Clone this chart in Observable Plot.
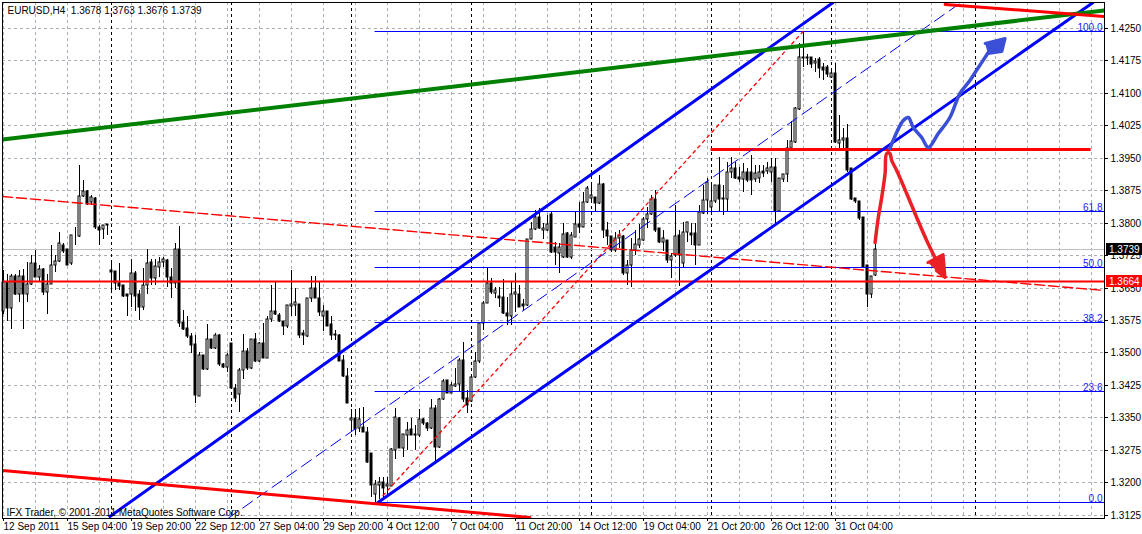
<!DOCTYPE html>
<html><head><meta charset="utf-8">
<script src="https://cdn.jsdelivr.net/npm/d3@7"></script>
<script src="https://cdn.jsdelivr.net/npm/@observablehq/plot@0.6"></script>
<style>
html,body{margin:0;padding:0;background:#fff;}
#chart{width:1142px;height:534px;overflow:hidden;}
svg{display:block;}
</style></head><body><div id="chart"></div>
<script>
// ---- EURUSD H4 candles (bar 1 = 12 Sep 2011 12:00) ----
const opens = [
1.3595,1.3662,1.3603,1.3676,1.3634,1.3676,1.3634,1.3659,1.3706,1.3675,
1.3692,1.3640,1.3657,1.3702,1.3712,1.3749,1.3738,1.3706,1.3769,1.3769,
1.3862,1.3873,1.3848,1.3856,1.3790,1.3785,1.3797,1.3690,1.3688,1.3661,
1.3656,1.3635,1.3635,1.3684,1.3635,1.3606,1.3656,1.3710,1.3673,1.3698,
1.3708,1.3714,1.3674,1.3661,1.3738,1.3571,1.3556,1.3538,1.3519,1.3400,
1.3495,1.3462,1.3531,1.3509,1.3540,1.3472,1.3467,1.3521,1.3417,1.3403,
1.3459,1.3503,1.3463,1.3531,1.3480,1.3521,1.3488,1.3577,1.3596,1.3586,
1.3573,1.3560,1.3608,1.3610,1.3611,1.3544,1.3539,1.3625,1.3648,1.3626,
1.3583,1.3596,1.3565,1.3542,1.3540,1.3482,1.3446,1.3343,1.3349,1.3324,
1.3328,1.3317,1.3267,1.3172,1.3194,1.3201,1.3191,1.3192,1.3274,1.3349,
1.3280,1.3309,1.3323,1.3311,1.3309,1.3347,1.3336,1.3324,1.3371,1.3282,
1.3392,1.3436,1.3407,1.3423,1.3428,1.3482,1.3394,1.3388,1.3442,1.3479,
1.3569,1.3615,1.3660,1.3637,1.3631,1.3629,1.3590,1.3585,1.3636,1.3636,
1.3613,1.3610,1.3762,1.3785,1.3812,1.3783,1.3783,1.3821,1.3744,1.3729,
1.3721,1.3775,1.3721,1.3767,1.3796,1.3790,1.3848,1.3856,1.3860,1.3845,
1.3889,1.3783,1.3768,1.3737,1.3764,1.3770,1.3683,1.3701,1.3737,1.3748,
1.3760,1.3808,1.3819,1.3855,1.3787,1.3756,1.3760,1.3713,1.3725,1.3771,
1.3706,1.3778,1.3775,1.3775,1.3748,1.3823,1.3852,1.3837,1.3849,1.3887,
1.3858,1.3855,1.3917,1.3926,1.3906,1.3902,1.3918,1.3916,1.3902,1.3904,
1.3920,1.3920,1.3918,1.3929,1.3827,1.3902,1.3912,1.3973,1.3987,1.4063,
1.4184,1.4184,1.4182,1.4168,1.4178,1.4160,1.4160,1.4137,1.4145,1.3985,
1.3991,1.3996,1.3926,1.3858,1.3849,1.3812,1.3702,1.3634,1.3678];
const highs = [
1.3690,1.3682,1.3682,1.3682,1.3690,1.3692,1.3708,1.3725,1.3736,1.3702,
1.3694,1.3682,1.3748,1.3725,1.3779,1.3754,1.3740,1.3771,1.3790,1.3933,
1.3898,1.3875,1.3864,1.3860,1.3795,1.3795,1.3797,1.3710,1.3688,1.3706,
1.3656,1.3635,1.3717,1.3687,1.3644,1.3694,1.3738,1.3715,1.3715,1.3720,
1.3720,1.3717,1.3694,1.3752,1.3792,1.3598,1.3583,1.3544,1.3540,1.3500,
1.3495,1.3565,1.3531,1.3544,1.3542,1.3475,1.3498,1.3521,1.3428,1.3465,
1.3542,1.3511,1.3532,1.3544,1.3523,1.3567,1.3583,1.3656,1.3665,1.3590,
1.3573,1.3610,1.3690,1.3648,1.3611,1.3552,1.3626,1.3677,1.3677,1.3663,
1.3609,1.3596,1.3583,1.3552,1.3542,1.3494,1.3463,1.3369,1.3369,1.3371,
1.3374,1.3328,1.3267,1.3205,1.3213,1.3213,1.3213,1.3278,1.3371,1.3351,
1.3311,1.3340,1.3349,1.3332,1.3369,1.3349,1.3338,1.3392,1.3378,1.3394,
1.3438,1.3436,1.3432,1.3463,1.3486,1.3523,1.3413,1.3444,1.3502,1.3571,
1.3619,1.3696,1.3673,1.3652,1.3652,1.3670,1.3629,1.3663,1.3683,1.3656,
1.3623,1.3762,1.3802,1.3829,1.3833,1.3798,1.3818,1.3824,1.3756,1.3752,
1.3798,1.3779,1.3779,1.3825,1.3848,1.3871,1.3885,1.3887,1.3860,1.3910,
1.3891,1.3802,1.3770,1.3779,1.3783,1.3771,1.3714,1.3764,1.3783,1.3796,
1.3814,1.3837,1.3865,1.3875,1.3788,1.3783,1.3760,1.3729,1.3841,1.3783,
1.3802,1.3801,1.3798,1.3798,1.3841,1.3887,1.3903,1.3887,1.3888,1.3952,
1.3887,1.3941,1.3952,1.3941,1.3929,1.3937,1.3926,1.3956,1.3933,1.3933,
1.3933,1.3941,1.3949,1.3949,1.3904,1.3912,1.3991,1.4034,1.4068,1.4215,
1.4242,1.4191,1.4184,1.4180,1.4184,1.4168,1.4164,1.4151,1.4168,1.4050,
1.4018,1.4027,1.3926,1.3858,1.3849,1.3814,1.3702,1.3677,1.3763];
const lows = [
1.3588,1.3572,1.3554,1.3632,1.3617,1.3555,1.3617,1.3655,1.3675,1.3663,
1.3632,1.3588,1.3657,1.3686,1.3709,1.3729,1.3702,1.3702,1.3748,1.3767,
1.3860,1.3840,1.3840,1.3786,1.3748,1.3761,1.3771,1.3644,1.3644,1.3644,
1.3629,1.3583,1.3606,1.3596,1.3575,1.3598,1.3635,1.3656,1.3656,1.3675,
1.3698,1.3652,1.3625,1.3648,1.3559,1.3552,1.3533,1.3498,1.3382,1.3398,
1.3459,1.3459,1.3508,1.3508,1.3469,1.3465,1.3455,1.3415,1.3386,1.3361,
1.3438,1.3459,1.3462,1.3478,1.3478,1.3486,1.3486,1.3571,1.3586,1.3571,
1.3540,1.3557,1.3583,1.3583,1.3534,1.3517,1.3536,1.3617,1.3625,1.3583,
1.3549,1.3562,1.3529,1.3529,1.3479,1.3444,1.3382,1.3317,1.3310,1.3317,
1.3317,1.3244,1.3165,1.3152,1.3160,1.3165,1.3170,1.3190,1.3254,1.3278,
1.3259,1.3274,1.3309,1.3274,1.3305,1.3332,1.3318,1.3323,1.3243,1.3278,
1.3390,1.3405,1.3405,1.3421,1.3409,1.3386,1.3359,1.3386,1.3440,1.3475,
1.3552,1.3615,1.3636,1.3625,1.3606,1.3588,1.3563,1.3563,1.3594,1.3606,
1.3598,1.3608,1.3762,1.3783,1.3785,1.3762,1.3781,1.3729,1.3703,1.3683,
1.3719,1.3719,1.3717,1.3767,1.3775,1.3790,1.3845,1.3848,1.3825,1.3842,
1.3765,1.3748,1.3731,1.3731,1.3742,1.3679,1.3656,1.3652,1.3725,1.3742,
1.3757,1.3787,1.3817,1.3779,1.3754,1.3734,1.3706,1.3671,1.3721,1.3654,
1.3694,1.3756,1.3748,1.3702,1.3748,1.3821,1.3821,1.3821,1.3845,1.3825,
1.3818,1.3825,1.3904,1.3902,1.3895,1.3871,1.3895,1.3865,1.3895,1.3891,
1.3906,1.3912,1.3895,1.3795,1.3825,1.3895,1.3895,1.3972,1.3985,1.4060,
1.4160,1.4164,1.4157,1.4149,1.4134,1.4130,1.4137,1.4135,1.3984,1.3972,
1.3970,1.3918,1.3852,1.3845,1.3806,1.3696,1.3606,1.3625,1.3676];
const closes = [
1.3662,1.3603,1.3676,1.3634,1.3676,1.3634,1.3659,1.3706,1.3675,1.3692,
1.3640,1.3657,1.3702,1.3712,1.3752,1.3734,1.3703,1.3771,1.3770,1.3862,
1.3873,1.3844,1.3860,1.3790,1.3783,1.3795,1.3794,1.3686,1.3661,1.3653,
1.3630,1.3630,1.3684,1.3630,1.3606,1.3656,1.3706,1.3673,1.3700,1.3710,
1.3715,1.3674,1.3661,1.3738,1.3567,1.3554,1.3538,1.3517,1.3401,1.3495,
1.3462,1.3531,1.3509,1.3540,1.3472,1.3467,1.3495,1.3417,1.3395,1.3459,
1.3503,1.3463,1.3531,1.3480,1.3521,1.3488,1.3577,1.3596,1.3588,1.3573,
1.3560,1.3610,1.3613,1.3616,1.3540,1.3540,1.3626,1.3648,1.3625,1.3594,
1.3596,1.3562,1.3540,1.3540,1.3480,1.3446,1.3382,1.3349,1.3323,1.3346,
1.3317,1.3247,1.3193,1.3195,1.3201,1.3186,1.3196,1.3277,1.3351,1.3280,
1.3311,1.3320,1.3309,1.3309,1.3346,1.3336,1.3326,1.3371,1.3282,1.3392,
1.3434,1.3407,1.3424,1.3428,1.3482,1.3392,1.3378,1.3442,1.3479,1.3567,
1.3615,1.3660,1.3639,1.3644,1.3626,1.3590,1.3585,1.3636,1.3640,1.3606,
1.3608,1.3762,1.3785,1.3814,1.3788,1.3788,1.3796,1.3731,1.3731,1.3744,
1.3773,1.3721,1.3771,1.3796,1.3790,1.3848,1.3881,1.3865,1.3845,1.3889,
1.3783,1.3770,1.3737,1.3764,1.3771,1.3683,1.3701,1.3737,1.3750,1.3762,
1.3808,1.3819,1.3855,1.3783,1.3756,1.3764,1.3713,1.3723,1.3768,1.3725,
1.3778,1.3801,1.3771,1.3748,1.3825,1.3852,1.3895,1.3849,1.3888,1.3855,
1.3855,1.3918,1.3926,1.3904,1.3902,1.3918,1.3898,1.3898,1.3914,1.3918,
1.3914,1.3926,1.3929,1.3827,1.3904,1.3912,1.3973,1.3989,1.4064,1.4184,
1.4180,1.4180,1.4166,1.4174,1.4157,1.4153,1.4143,1.4147,1.3987,1.3991,
1.3996,1.3922,1.3855,1.3849,1.3810,1.3698,1.3634,1.3677,1.3739];

// ---- axes ----
const priceTicks = [1.3125,1.3200,1.3275,1.3350,1.3425,1.3500,1.3575,1.3650,1.3725,1.3800,1.3875,1.3950,1.4025,1.4100,1.4175,1.4250];
const dateLabelBars = [1,17,33,49,65,81,97,113,129,145,161,177,193,209];
const dateLabels = ["12 Sep 2011","15 Sep 04:00","19 Sep 20:00","22 Sep 12:00","27 Sep 04:00","29 Sep 20:00","4 Oct 12:00","7 Oct 04:00","11 Oct 20:00","14 Oct 12:00","19 Oct 04:00","21 Oct 20:00","26 Oct 12:00","31 Oct 04:00"];
const separatorBars = [28,58,88,118,148,178,208,244];

// ---- drawn objects: [bar, price] ----
const greenTrend = [[0.75,1.39945],[276.25,1.42916]];
const redTrendTop = [[236.4,1.43055],[276.25,1.42777]];
const redTrendBottom = [[0.75,1.32280],[132.6,1.31205]];
const blueChannelUpper = [[27.6,1.31217],[208.4,1.43101]];
const blueChannelLower = [[94.6,1.31531],[273.4,1.43101]];
const blueChannelMid = [[57.1,1.31171],[240.4,1.43101]];
const fibTrend = [[95.9,1.31702],[200.9,1.42431]];
const redDashedTrend = [[0.75,1.38616],[276.25,1.36442]];
const fibLow = 1.31540, fibHigh = 1.42431, fibStartBar = 93.9;
const fibLevels = [0, 23.6, 38.2, 50.0, 61.8, 100.0];
const resistanceLevel = 1.39691, resistanceBars = [177.9, 272.9];
const supportLevel = 1.3664;
const blueSketch = [[222.6,1.39718],[225.95,1.40373],[227.2,1.40435],[228.45,1.40218],[230.55,1.39987],[232.2,1.39742],[234.7,1.40065],[237.6,1.40449],[240.1,1.40990],[242.6,1.41298],[243.9,1.41490],[247.2,1.41952]];
const blueSketchHead = [[246.4,1.42160],[251.4,1.42270],[250.6,1.41968],[247.1,1.41920]];
const redSketch = [[218.9,1.37559],[219.7,1.38137],[220.55,1.38599],[221.4,1.39140],[221.8,1.39603],[222.6,1.39617],[223.05,1.39448],[224.3,1.39217],[226.8,1.38678],[229.3,1.38137],[231.8,1.37598],[235.1,1.36981]];
const redSketchHead = [[232.1,1.37090],[235.9,1.37275],[236.4,1.36743],[234.2,1.36900]];

const n = opens.length;
const candles = d3.range(n).map(k => ({bar: k + 1, o: opens[k], h: highs[k], l: lows[k], c: closes[k]}));
const pts = arr => arr.map(([bar, price]) => ({bar, price}));
const fibRows = fibLevels.map(f => ({f, price: fibLow + f / 100 * (fibHigh - fibLow), label: f.toFixed(1)}));
const labelMap = new Map(dateLabelBars.map((b, k) => [b, dateLabels[k]]));
const f4 = d3.format(".4f");
const header = "EURUSD,H4\u00a0 " + [opens[n-1], highs[n-1], lows[n-1], closes[n-1]].map(f4).join(" ");
const xMax = 276.25;
const gridBars = d3.range(1, xMax, 8);
const gridStroke = "#aab0b8";

const line = (arr, o) => Plot.line(pts(arr), {x: "bar", y: "price", clip: true, ...o});

const plot = Plot.plot({
  width: 1142, height: 534,
  marginLeft: 2, marginRight: 38, marginTop: 2, marginBottom: 16,
  x: {domain: [0.75, xMax], axis: null},
  y: {domain: [1.311705, 1.431012], axis: null, round: true},
  style: {fontFamily: "'Liberation Sans', Arial, sans-serif", fontSize: "10px", color: "#000", background: "#fff"},
  marks: [
    Plot.gridY(priceTicks, {stroke: gridStroke, strokeOpacity: 1, strokeDasharray: "3,3"}),
    Plot.ruleX(gridBars, {stroke: gridStroke, strokeOpacity: 1, strokeDasharray: "3,3"}),
    Plot.ruleX(separatorBars, {stroke: "#000", strokeDasharray: "3,3"}),
    Plot.ruleY([closes[n-1]], {stroke: "#c0c0c0"}),
    Plot.ruleX(candles, {x: "bar", y1: "l", y2: "h", stroke: "#000"}),
    Plot.rect(candles, {x1: d => d.bar - 0.25, x2: d => d.bar + 0.25,
      y1: d => Math.min(d.o, d.c), y2: d => Math.max(d.o, d.c),
      fill: d => d.c > d.o ? "#ffffff" : "#000000", stroke: "#000", strokeWidth: 1}),
    // fibonacci
    Plot.ruleY(fibRows, {y: "price", x1: fibStartBar, x2: xMax, stroke: "#0000ff"}),
    Plot.text(fibRows, {x: xMax, y: "price", text: "label", textAnchor: "end", lineAnchor: "bottom", dx: -2, dy: -1, fill: "#2020ff", fontSize: 10}),
    line(fibTrend, {stroke: "#ff0000", strokeWidth: 1.3, strokeDasharray: "3,4"}),
    // horizontal levels
    Plot.ruleY([supportLevel], {stroke: "#ff0000", strokeWidth: 2}),
    Plot.ruleY([resistanceLevel], {x1: resistanceBars[0], x2: resistanceBars[1], stroke: "#ff0000", strokeWidth: 3}),
    line(redDashedTrend, {stroke: "#ff0000", strokeWidth: 1.4, strokeDasharray: "10,4"}),
    // channel
    line(blueChannelMid, {stroke: "#0000ff", strokeWidth: 1, strokeDasharray: "12,6"}),
    line(blueChannelUpper, {stroke: "#0000ff", strokeWidth: 3}),
    line(blueChannelLower, {stroke: "#0000ff", strokeWidth: 3}),
    // long trends
    line(greenTrend, {stroke: "#008000", strokeWidth: 4}),
    line(redTrendTop, {stroke: "#ff0000", strokeWidth: 3}),
    line(redTrendBottom, {stroke: "#ff0000", strokeWidth: 3}),
    // hand-drawn scenario
    line(blueSketch, {stroke: "#3b4fd6", strokeWidth: 3.5, strokeLinejoin: "round", strokeLinecap: "round", curve: "catmull-rom"}),
    line(blueSketchHead, {stroke: "#3b4fd6", fill: "#3b4fd6", strokeWidth: 3, strokeLinejoin: "round"}),
    line(redSketch, {stroke: "#ea2027", strokeWidth: 3.5, strokeLinejoin: "round", strokeLinecap: "round", curve: "catmull-rom"}),
    line(redSketchHead, {stroke: "#ea2027", fill: "#ea2027", strokeWidth: 3, strokeLinejoin: "round"}),
    // axes and frame
    Plot.axisY(priceTicks, {anchor: "right", label: null, tickSize: 3, tickPadding: 3, tickFormat: f4, fontSize: 10}),
    Plot.axisX(dateLabelBars, {anchor: "bottom", label: null, tickSize: 3, tickPadding: 1, tickFormat: d => labelMap.get(d), textAnchor: "start", fontSize: 10}),
    Plot.frame({stroke: "#000"}),
    Plot.text([header], {frameAnchor: "top-left", text: d => d, dx: 5, dy: 4, lineAnchor: "top", textAnchor: "start", fontSize: 10}),
    Plot.text(["IFX Trader, \u00a9 2001-2011 MetaQuotes Software Corp."], {frameAnchor: "bottom-left", text: d => d, dx: 4, dy: -3, lineAnchor: "bottom", textAnchor: "start", fontSize: 10})
  ]
});

// price tags on the right axis, positioned through the plot's own y scale
const priceTags = [{price: closes[n-1], bg: "#000000"}, {price: supportLevel, bg: "#ff0000"}];
const ys = plot.scale("y");
const svg = d3.select(plot);
const tagLayer = svg.append("g").attr("text-anchor", "start");
for (const t of priceTags) {
  const y = Math.round(ys.apply(t.price));
  tagLayer.append("rect").attr("x", 1106).attr("y", y - 6).attr("width", 36).attr("height", 12).attr("fill", t.bg);
  tagLayer.append("text").attr("x", 1109).attr("y", y).attr("dy", "0.35em").attr("text-anchor", "start")
    .attr("fill", "#fff").attr("font-size", 10).text(f4(t.price));
}
document.getElementById("chart").appendChild(plot);
</script>
</body></html>
